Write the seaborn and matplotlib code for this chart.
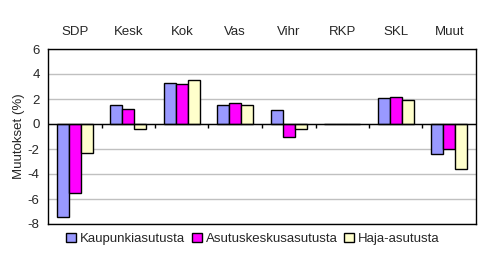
import matplotlib
matplotlib.use("Agg")
import matplotlib.pyplot as plt
import seaborn as sns
import pandas as pd
from matplotlib.patches import Patch

categories = ["SDP", "Kesk", "Kok", "Vas", "Vihr", "RKP", "SKL", "Muut"]
series_names = ["Kaupunkiasutusta", "Asutuskeskusasutusta", "Haja-asutusta"]
kaupunki = [-7.4, 1.5, 3.3, 1.5, 1.1, 0.0, 2.1, -2.4]
asutuskeskus = [-5.5, 1.2, 3.2, 1.7, -1.0, 0.0, 2.2, -2.0]
haja = [-2.3, -0.4, 3.5, 1.5, -0.4, 0.0, 1.9, -3.6]
colors = ["#9999FF", "#FF00FF", "#FFFFCC"]
yticks = [-8, -6, -4, -2, 0, 2, 4, 6]
ylabel = "Muutokset (%)"

rows = []
for name, vals in zip(series_names, [kaupunki, asutuskeskus, haja]):
    for c, v in zip(categories, vals):
        rows.append({"cat": c, "series": name, "value": v})
df = pd.DataFrame(rows)

sns.set_style("white")
plt.rcParams["font.family"] = ["Liberation Sans", "DejaVu Sans"]
plt.rcParams["font.size"] = 9.5

fig = plt.figure(figsize=(4.82, 2.57), dpi=100)
ax = fig.add_axes([48 / 482, 1 - 224 / 257, (476 - 48) / 482, (224 - 49) / 257])

sns.barplot(data=df, x="cat", y="value", hue="series", order=categories,
            hue_order=series_names, palette=colors, width=0.67,
            edgecolor="black", linewidth=1, legend=False, ax=ax, saturation=1)

ax.set_ylim(-8, 6)
ax.set_xlim(-0.5, len(categories) - 0.5)
ax.set_yticks(yticks)
ax.set_yticklabels([str(t) for t in yticks])
ax.yaxis.grid(True, color="#C0C0C0", linewidth=1)
ax.set_axisbelow(True)
ax.tick_params(axis="y", direction="out", length=4, width=1, color="black", pad=2, labelsize=9.5)
ax.xaxis.tick_top()
ax.tick_params(axis="x", length=0, pad=8, labelsize=9.5)
ax.set_xlabel("")
ax.set_ylabel(ylabel, fontsize=9.5, labelpad=2)
for s in ax.spines.values():
    s.set_visible(True)
    s.set_color("black")
    s.set_linewidth(1)

ax.axhline(0, color="black", linewidth=1, zorder=3)
bounds = [i + 0.5 for i in range(len(categories) - 1)]
ax.vlines(bounds, -0.3, 0, color="black", linewidth=1, zorder=3)

handles = [Patch(facecolor=c, edgecolor="black", linewidth=1) for c in colors]
fig.legend(handles, series_names, loc="center", bbox_to_anchor=(253 / 482, 1 - 239 / 257),
           ncol=3, frameon=False, fontsize=9.5, handlelength=0.75, handleheight=0.75,
           handletextpad=0.3, columnspacing=0.5, borderpad=0)

fig.savefig("out.png", dpi=100)
